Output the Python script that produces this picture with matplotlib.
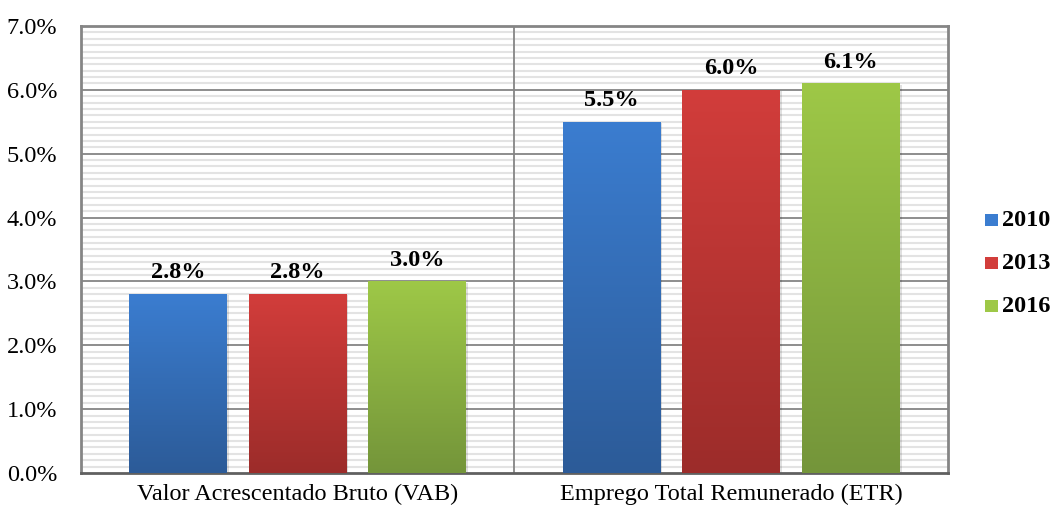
import numpy as np
import matplotlib.pyplot as plt
from matplotlib.colors import LinearSegmentedColormap

plt.rcParams['font.family'] = ['Liberation Serif', 'DejaVu Serif']

categories = ["Valor Acrescentado Bruto (VAB)", "Emprego Total Remunerado (ETR)"]
years = ["2010", "2013", "2016"]
vals_2010 = [2.8, 5.5]
vals_2013 = [2.8, 6.0]
vals_2016 = [3.0, 6.1]
series = [vals_2010, vals_2013, vals_2016]

# top colour, bottom colour for each year
grads = [("#3b7dd0", "#2c5b98"), ("#d23d3b", "#9c2c2a"), ("#9ec847", "#74953a")]

fig = plt.figure(figsize=(10.53, 5.11), dpi=100)
ax = fig.add_axes([0.0769, 0.0744, 0.8234, 0.8747])

ax.set_xlim(0, 2)
ax.set_ylim(0, 7)

# striped background
for y in np.arange(0.1, 7.0, 0.1):
    if abs(y - round(y)) > 0.01:
        ax.axhline(y, color="#e3e3e3", lw=1.5, zorder=0)
for y in range(1, 7):
    ax.axhline(y, color="#858585", lw=1.3, zorder=1)
ax.axvline(1, color="#858585", lw=1.3, zorder=1)

width = 0.226
offsets = [-0.276, 0, 0.276]
grad = np.linspace(0, 1, 256).reshape(-1, 1)
for vals, off, (ctop, cbot) in zip(series, offsets, grads):
    cmap = LinearSegmentedColormap.from_list("g", [cbot, ctop])
    for i, v in enumerate(vals):
        x0 = i + 0.5 + off - width / 2
        # faint shadow
        ax.bar(x0 + width / 2 + 0.004, v, width, bottom=-0.02, color="#000000",
               alpha=0.12, zorder=2, linewidth=0)
        bar = ax.bar(x0 + width / 2, v, width, color=ctop, zorder=3, linewidth=0)[0]
        im = ax.imshow(grad, extent=(x0, x0 + width, 0, v), origin="lower",
                       cmap=cmap, aspect="auto", zorder=3.5)
        im.set_clip_path(bar)
        ax.text(i + 0.5 + off, v + 0.17, f"{v:.1f}%", ha="center", va="bottom",
                fontsize=17.5, fontweight="bold", zorder=5)

ax.set_xticks([0.5, 1.5])
ax.set_xticklabels(categories, fontsize=17.5)
ax.set_yticks(range(0, 8))
ax.set_yticklabels([f"{y:.1f}%" for y in range(0, 8)], fontsize=17.5)
ax.tick_params(length=0)
ax.tick_params(axis="x", pad=8)
ax.tick_params(axis="y", pad=17)

for s in ax.spines.values():
    s.set_color("#858585")
    s.set_linewidth(2)
ax.spines["bottom"].set_color("#606060")

# legend
for k, (yr, (ctop, cbot)) in enumerate(zip(years, grads)):
    yy = 0.569 - k * 0.084
    fig.patches.append(plt.Rectangle((0.9355, yy - 0.012), 0.0125, 0.024,
                                     transform=fig.transFigure,
                                     facecolor=ctop, edgecolor="none"))
    fig.text(0.952, yy, yr, fontsize=17.5, fontweight="bold", va="center", ha="left")

fig.savefig("out.png", dpi=100)
